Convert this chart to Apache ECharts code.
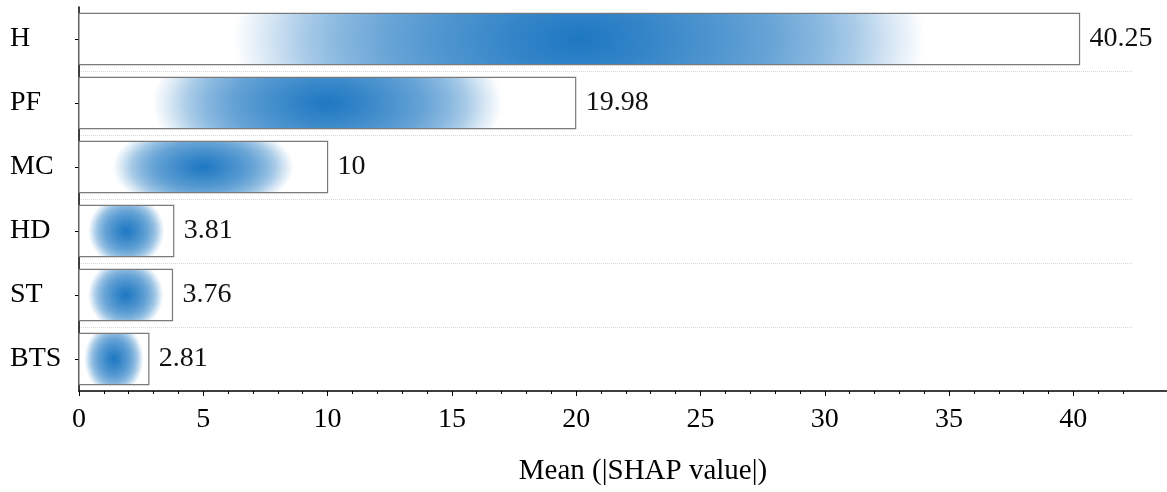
<!DOCTYPE html>
<html><head><meta charset="utf-8">
<script src="https://cdn.jsdelivr.net/npm/echarts@6/dist/echarts.min.js"></script>
<style>html,body{margin:0;padding:0;background:#fff}#c{width:1167px;height:492px}</style>
</head><body><div id="c"></div>
<script>
const categories = ['H', 'PF', 'MC', 'HD', 'ST', 'BTS'];
const values = [40.25, 19.98, 10, 3.81, 3.76, 2.81];
const majorTicks = [0, 5, 10, 15, 20, 25, 30, 35, 40];
const minorTicks = [0,1,2,3,4,5,6,7,8,9,10,11,12,13,14,15,16,17,18,19,20,21,22,23,24,25,26,27,28,29,30,31,32,33,34,35,36,37,38,39,40,41,42];
const axisTitle = 'Mean (|SHAP value|)';

const FONT = 'Liberation Serif';
const profile = [[0,1],[0.2,0.9],[0.4,0.78],[0.55,0.68],[0.7,0.52],[0.8,0.38],[0.9,0.18],[1,0]];
const stops = profile.map(p => ({offset: p[0], color: 'rgba(30,120,194,' + p[1] + ')'}));

const chart = echarts.init(document.getElementById('c'), null, {renderer: 'canvas'});

function renderItem(params, api) {
  const v = api.value(0);
  const cat = api.value(1);
  const p0 = api.coord([0, cat]);
  const p1 = api.coord([v, cat]);
  const h = api.size([0, 1])[1] * 0.8;
  const w = p1[0] - p0[0];
  const cx = (p0[0] + p1[0]) / 2, cy = p0[1];
  const rx = 0.34 * w + 6;
  const ry = Math.max(36, 0.5 * rx);
  return {
    type: 'group',
    children: [
      {type: 'rect', shape: {x: p0[0], y: cy - h / 2, width: w, height: h}, style: {fill: '#fff'}},
      {type: 'rect', x: cx, y: cy, scaleX: rx / ry,
        shape: {x: -ry, y: -h / 2, width: 2 * ry, height: h},
        style: {fill: {type: 'radial', x: 0, y: 0, r: ry, colorStops: stops, global: true}}},
      {type: 'rect', shape: {x: p0[0], y: cy - h / 2, width: w, height: h},
        style: {fill: 'none', stroke: '#7a7a7a', lineWidth: 1.2}},
      {type: 'text', x: p1[0] + 10, y: cy,
        style: {text: String(v), fill: '#111', fontSize: 28, fontFamily: FONT, verticalAlign: 'middle', align: 'left'}}
    ]
  };
}

chart.setOption({
  animation: false,
  backgroundColor: '#fff',
  grid: [
    {left: 79, right: 34, top: 7, bottom: 101, outerBoundsMode: 'none', containLabel: false},
    {left: 79, right: 0, top: 7, bottom: 101, outerBoundsMode: 'none', containLabel: false}
  ],
  xAxis: [
    {
      gridIndex: 0, type: 'value', min: 0, max: 42.4, interval: 5, position: 'bottom',
      axisLine: {show: false},
      axisTick: {show: true, customValues: majorTicks, length: 5, lineStyle: {color: '#000', width: 1}},
      axisLabel: {customValues: majorTicks, fontSize: 28, fontFamily: FONT, color: '#000', margin: 15},
      splitLine: {show: false},
      name: axisTitle, nameLocation: 'middle', nameGap: 66,
      nameTextStyle: {fontSize: 29, fontFamily: FONT, color: '#000', padding: [0, 0, 0, 74]}
    },
    {
      gridIndex: 0, type: 'value', min: 0, max: 42.4, position: 'bottom', offset: 0,
      axisLine: {show: false},
      axisTick: {show: true, customValues: minorTicks, length: 3, lineStyle: {color: '#000', width: 1}},
      axisLabel: {show: false},
      splitLine: {show: false}
    },
    {
      gridIndex: 1, type: 'value', min: 0, max: 1, position: 'bottom',
      axisLine: {show: true, lineStyle: {color: '#000', width: 1.5}},
      axisTick: {show: false}, axisLabel: {show: false}, splitLine: {show: false}
    }
  ],
  yAxis: [
    {
      gridIndex: 0, type: 'category', data: categories, inverse: true,
      axisLine: {show: true, lineStyle: {color: '#000', width: 1.5}},
      axisTick: {show: true, alignWithLabel: true, length: 4, lineStyle: {color: '#000'}},
      axisLabel: {align: 'left', margin: 69, fontSize: 28, fontFamily: FONT, color: '#000'},
      splitLine: {show: true, showMinLine: false, showMaxLine: false, lineStyle: {type: 'dotted', color: '#d6d6d6', width: 1}}
    },
    {gridIndex: 1, type: 'value', show: false}
  ],
  series: [{
    type: 'custom',
    xAxisIndex: 0, yAxisIndex: 0,
    renderItem: renderItem,
    encode: {x: 0, y: 1},
    data: values.map((v, i) => [v, i])
  }]
});
</script>
</body></html>
